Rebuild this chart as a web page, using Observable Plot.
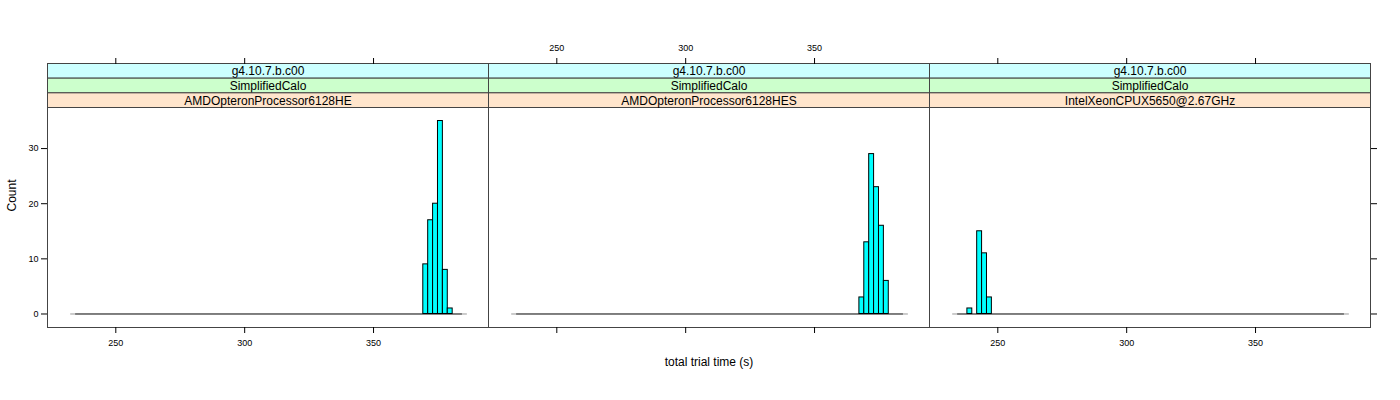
<!DOCTYPE html>
<html>
<head>
<meta charset="utf-8">
<script src="https://cdn.jsdelivr.net/npm/d3@7"></script>
<script src="https://cdn.jsdelivr.net/npm/@observablehq/plot@0.6"></script>
<style>
  body { margin: 0; background: white; }
</style>
</head>
<body>
<div id="chart"></div>
<script>
// ---- data ----
const cpuLabels = ["AMDOpteronProcessor6128HE", "AMDOpteronProcessor6128HES", "IntelXeonCPUX5650@2.67GHz"];
const versionLabels = ["g4.10.7.b.c00", "g4.10.7.b.c00", "g4.10.7.b.c00"];
const testLabels = ["SimplifiedCalo", "SimplifiedCalo", "SimplifiedCalo"];
const binStart = 234.4;
const binWidth = 1.9;
const nBins = 79;
const firstBin = [71, 70, 2];
const counts = [
  [9, 17, 20, 35, 8, 1],
  [3, 13, 29, 23, 16, 6],
  [1, 0, 15, 11, 3]
];
const xTicks = [250, 300, 350];
const yTicks = [0, 10, 20, 30];
const xTitle = "total trial time (s)";
const yTitle = "Count";

// ---- build tables ----
const bins = [];
cpuLabels.forEach((panel, p) => {
  for (let k = 0; k < nBins; k++) {
    const c = counts[p][k - firstBin[p]] ?? 0;
    bins.push({panel, x1: binStart + k * binWidth, x2: binStart + (k + 1) * binWidth, count: c});
  }
});
const bars = bins.filter(d => d.count > 0);
const binEnd = binStart + nBins * binWidth;
const baseline = cpuLabels.map(panel => ({panel, x1: binStart, x2: binEnd}));
const baseEdges = cpuLabels.flatMap(panel => [
  {panel, x1: binStart - binWidth, x2: binStart},
  {panel, x1: binEnd, x2: binEnd + binWidth}
]);
const strips = cpuLabels.map((panel, p) => ({panel, version: versionLabels[p], test: testLabels[p]}));
const bottomLabels = [0, 2].flatMap(p => xTicks.map(v => ({panel: cpuLabels[p], v})));
const topLabels = [1].flatMap(p => xTicks.map(v => ({panel: cpuLabels[p], v})));

// ---- layout ----
const W = 1400, H = 400;
const mT = 63, mB = 73, mL = 47, mR = 30;
const frameH = H - mT - mB;
const stripH = 44 / 3;
const dataTop = mT + 3 * stripH;
const font = "'Liberation Sans', Arial, Helvetica, sans-serif";
const stripColors = ["#ccffff", "#ccffcc", "#ffe5cc"];
const stripText = [d => d.version, d => d.test, d => d.panel];
const tickFont = 9;

const marks = [];
stripColors.forEach((col, j) => {
  marks.push(Plot.frame({fill: col, stroke: "#444", insetTop: j * stripH, insetBottom: frameH - (j + 1) * stripH}));
  marks.push(Plot.text(strips, {fx: "panel", text: stripText[j], frameAnchor: "top", dy: j * stripH + stripH / 2 + 0.5, lineAnchor: "middle", fontSize: 12, fill: "black"}));
});
marks.push(
  Plot.ruleY(baseEdges, {fx: "panel", y: 0, x1: "x1", x2: "x2", stroke: "#999"}),
  Plot.ruleY(baseline, {fx: "panel", y: 0, x1: "x1", x2: "x2", stroke: "black"}),
  Plot.rectY(bars, {fx: "panel", x1: "x1", x2: "x2", y: "count", fill: "#00ffff", stroke: "black", strokeWidth: 1}),
  Plot.frame({stroke: "#444"}),
  Plot.axisY({anchor: "left", ticks: yTicks, tickSize: 6, tickPadding: 3, label: null, facetAnchor: "left", fontSize: tickFont}),
  Plot.axisY({anchor: "right", ticks: yTicks, tickSize: 6, tickFormat: () => "", label: null, facetAnchor: "right"}),
  Plot.axisX({anchor: "bottom", ticks: xTicks, tickSize: 6, tickFormat: () => "", label: null, facetAnchor: "bottom"}),
  Plot.axisX({anchor: "top", ticks: xTicks, tickSize: 6, tickFormat: () => "", label: null, facetAnchor: "top"}),
  Plot.text(bottomLabels, {fx: "panel", x: "v", text: d => String(d.v), frameAnchor: "bottom", dy: 16, lineAnchor: "middle", fontSize: tickFont}),
  Plot.text(topLabels, {fx: "panel", x: "v", text: d => String(d.v), frameAnchor: "top", dy: -15, lineAnchor: "middle", fontSize: tickFont}),
  Plot.text([{panel: cpuLabels[1], t: xTitle}], {fx: "panel", text: "t", frameAnchor: "bottom", dy: 35, lineAnchor: "middle", fontSize: 12}),
  Plot.text([yTitle], {text: d => d, frameAnchor: "left", dx: -35, dy: 16, rotate: -90, lineAnchor: "middle", fontSize: 12, facetAnchor: "left"})
);

const chart = Plot.plot({
  width: W,
  height: H,
  marginTop: mT,
  marginBottom: mB,
  marginLeft: mL,
  marginRight: mR,
  style: {fontFamily: font, background: "white", overflow: "visible", color: "black"},
  fx: {domain: cpuLabels, padding: 0, axis: null},
  x: {domain: [223.5, 394.6], axis: null},
  y: {domain: [-2.45, 37.45], range: [H - mB, dataTop], axis: null},
  marks
});
document.getElementById("chart").appendChild(chart);
</script>
</body>
</html>
